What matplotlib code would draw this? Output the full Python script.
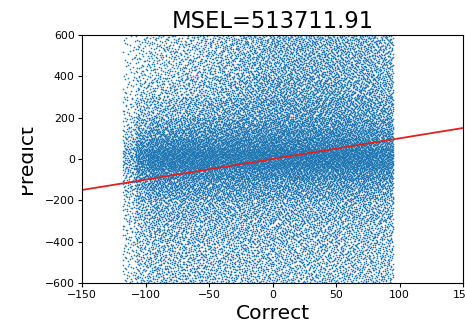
import numpy as np
import matplotlib
matplotlib.use('Agg')
import matplotlib.pyplot as plt
from matplotlib.patches import Rectangle

# bin edges (data units) of the density grid
x_edges = [-118, -108, -98, -84, -70, -56, -42, -28, -14, 0, 20, 40, 60, 80, 95]
y_edges = [-600, -500, -400, -300, -200, -150, -100, -50, 0, 50, 100, 150, 200, 300, 400, 500, 600]

# estimated point density per cell (points per 10 x-units by 100 y-units),
# rows go from bottom (-600) to top (600)
density = [
    [22, 42, 52, 52, 52, 52, 52, 52, 52, 52, 52, 50, 50, 48],
    [24, 45, 55, 55, 55, 55, 55, 55, 55, 55, 55, 53, 52, 50],
    [26, 50, 62, 62, 62, 62, 62, 62, 62, 62, 60, 60, 58, 55],
    [32, 62, 75, 75, 75, 75, 75, 75, 75, 75, 72, 72, 70, 65],
    [40, 80, 100, 100, 100, 100, 100, 100, 100, 100, 98, 95, 92, 85],
    [48, 95, 118, 120, 120, 120, 120, 120, 120, 120, 118, 115, 110, 100],
    [58, 120, 150, 152, 152, 152, 152, 155, 158, 158, 158, 152, 148, 135],
    [72, 155, 200, 208, 210, 210, 210, 215, 220, 220, 220, 215, 205, 185],
    [76, 165, 215, 225, 228, 228, 228, 232, 236, 236, 236, 232, 222, 195],
    [56, 122, 155, 165, 170, 170, 170, 175, 180, 180, 180, 175, 165, 145],
    [44, 92, 115, 122, 128, 132, 136, 142, 148, 150, 150, 145, 140, 125],
    [34, 70, 88, 95, 102, 106, 112, 118, 124, 128, 128, 125, 120, 105],
    [24, 50, 60, 64, 72, 78, 86, 94, 100, 105, 105, 105, 100, 90],
    [16, 34, 42, 46, 52, 58, 66, 74, 82, 88, 88, 88, 85, 75],
    [13, 28, 35, 38, 44, 50, 58, 65, 72, 78, 80, 80, 76, 68],
    [12, 25, 32, 35, 40, 46, 54, 62, 68, 75, 76, 76, 72, 64],
]

mse_text = 'MSEL=513711.91'
line_x = [-150, 150]
line_y = [-150, 150]


def halton(k, base):
    """
    Halton low discrepancy sequence for the integer indices k
    """
    k = k.copy()
    f = np.ones(len(k))
    r = np.zeros(len(k))
    while np.any(k > 0):
        f = f / base
        r = r + f * (k % base)
        k = k // base
    return r


def spread_points():
    """
    Fill every cell with its number of points, placed by a deterministic Halton sequence
    :return: (x, y)
    """
    xs, ys = [], []
    start = 1
    for i, row in enumerate(density):
        h = y_edges[i + 1] - y_edges[i]
        for j, d in enumerate(row):
            w = x_edges[j + 1] - x_edges[j]
            n = int(round(d * w / 10 * h / 100))
            k = np.arange(start, start + n)
            start += n
            xs.append(x_edges[j] + halton(k, 2) * w)
            ys.append(y_edges[i] + halton(k, 3) * h)
    return np.concatenate(xs), np.concatenate(ys)


x, y = spread_points()

fig = plt.figure(figsize=(4.65, 3.28), dpi=100)
ax = fig.add_axes([82 / 465, 45 / 328, 381 / 465, 248 / 328])

ax.scatter(x, y, s=1.4, color='#1f77b4', linewidths=0)
ax.plot(line_x, line_y, color='#e0201e', linewidth=1.3)

ax.set_xlim(-150, 150)
ax.set_ylim(-600, 600)
ax.set_xticks([-150, -100, -50, 0, 50, 100, 150])
ax.set_yticks([-600, -400, -200, 0, 200, 400, 600])
ax.tick_params(labelsize=7.8, length=3, pad=2.2)

ax.set_title(mse_text, fontsize=16.3, pad=5)
ax.set_xlabel('Correct', fontsize=14.6, labelpad=3)
ax.set_ylabel('Predict', fontsize=14.6)
ax.yaxis.set_label_coords(-0.122, 0.5)

# the reference shows the y label cut off near the left edge of the picture
fig.patches.append(Rectangle((0, 0), 22 / 465, 1, transform=fig.transFigure,
                             facecolor='white', edgecolor='none', zorder=10))

fig.savefig('out.png', dpi=100)
